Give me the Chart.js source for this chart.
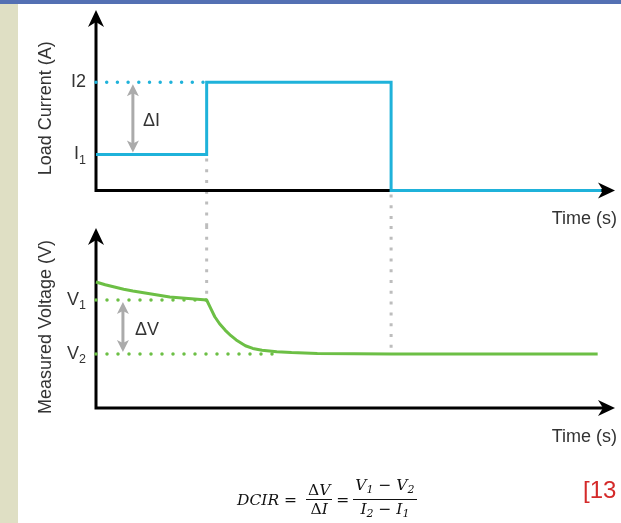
<!DOCTYPE html>
<html>
<head>
<meta charset="utf-8">
<script src="https://cdn.jsdelivr.net/npm/chart.js@4.4.0/dist/chart.umd.min.js"></script>
<style>
  body { margin: 0; width: 621px; height: 523px; position: relative; overflow: hidden; background: #fff; }
  .strip { position: absolute; left: 0; top: 0; width: 18px; height: 523px; background: #DFDFC4; }
  .bar { position: absolute; left: 0; top: 0; width: 621px; height: 4px; background: #5470B3; }
  canvas { position: absolute; left: 0; top: 0; }
  .formula { position: absolute; left: 237px; top: 476px; display: flex; align-items: center;
    font: italic 15.5px 'DejaVu Serif', serif; color: #111; white-space: nowrap; }
  .formula .up { font-style: normal; }
  .frac { display: inline-flex; flex-direction: column; align-items: center; margin: 0 4px; line-height: 18px; }
  .frac span.num { border-bottom: 1px solid #111; padding: 0 2px; }
  .formula sub { font-size: 11px; vertical-align: -3px; }
  .ref { position: absolute; left: 583px; top: 476px; font: 24px 'Liberation Sans', Arial, sans-serif; color: #D42A2A; }
</style>
</head>
<body>
<div class="strip"></div>
<div class="bar"></div>
<canvas id="chart-current" width="621" height="523"></canvas>
<canvas id="chart-voltage" width="621" height="523"></canvas>
<div class="formula">
  <span>DCIR =&nbsp;</span>
  <span class="frac"><span class="num"><span class="up">Δ</span>V</span><span><span class="up">Δ</span>I</span></span>
  <span>=</span>
  <span class="frac"><span class="num">V<sub>1</sub> − V<sub>2</sub></span><span>I<sub>2</sub> − I<sub>1</sub></span></span>
</div>
<div class="ref">[13</div>
<script>
// load current (stepped) : value changes at each time
const stepTimes = [0, 3, 8, 13.7];
const stepCurrent = [1, 3, 0, 0];
const currentLevels = [1, 3];
const currentTickText = ['I', 'I2'];
const currentTickSub = ['1', ''];

// measured voltage
const voltageTimes = [0, 0.25, 0.5, 0.75, 1, 1.5, 2, 2.5, 3, 3.1, 3.22, 3.35, 3.5, 3.65, 3.8, 4.05, 4.25, 4.5, 4.9, 5.3, 6, 7, 8, 13.6];
const voltageValues = [7, 6.85, 6.72, 6.6, 6.5, 6.33, 6.17, 6.08, 6, 5.58, 5.07, 4.68, 4.33, 4.03, 3.78, 3.46, 3.31, 3.21, 3.13, 3.08, 3.03, 3.01, 3, 3];
const voltageLevels = [6, 3];
const voltageTickText = ['V', 'V'];
const voltageTickSub = ['1', '2'];

const switchTimes = [3, 8];
const timeMax = 14.07;
const splitY = 226;

const cyan = '#1FB2DA';
const green = '#6CBF45';
const grey = '#ABABAB';
const textColor = '#333';
const font = "'Liberation Sans', Arial, sans-serif";

function toPoints(xs, ys) {
  return xs.map((x, i) => ({x: x, y: ys[i]}));
}

function arrowHead(ctx, x, y, angle, len, half, notch) {
  ctx.save();
  ctx.translate(x, y);
  ctx.rotate(angle);
  ctx.beginPath();
  ctx.moveTo(0, 0);
  ctx.lineTo(-len, -half);
  ctx.lineTo(-len + notch, 0);
  ctx.lineTo(-len, half);
  ctx.closePath();
  ctx.fill();
  ctx.restore();
}

const diagram = {
  id: 'diagram',
  beforeDatasetsDraw(chart, args, o) {
    const {ctx, chartArea: a, scales} = chart;
    ctx.save();
    // dotted grey connectors at the switch times
    ctx.strokeStyle = '#BDBDBD';
    ctx.lineWidth = 3;
    ctx.setLineDash([3, 7.8]);
    switchTimes.forEach((t, i) => {
      const x = scales.x.getPixelForValue(t);
      const y = scales.y.getPixelForValue(o.connectorValues[i]);
      ctx.beginPath();
      if (o.connectDown) { ctx.moveTo(x, y + 4); ctx.lineTo(x, splitY); }
      else { ctx.moveTo(x, splitY); ctx.lineTo(x, y - 6); }
      ctx.stroke();
    });
    ctx.setLineDash([]);
    // axes with arrows
    ctx.strokeStyle = '#000';
    ctx.fillStyle = '#000';
    ctx.lineWidth = 3;
    ctx.beginPath();
    ctx.moveTo(a.left, a.top + 10);
    ctx.lineTo(a.left, a.bottom);
    ctx.lineTo(a.right - 10, a.bottom);
    ctx.stroke();
    arrowHead(ctx, a.left, a.top, -Math.PI / 2, 17, 8, 5);
    arrowHead(ctx, a.right, a.bottom, 0, 17, 8, 5);
    ctx.restore();
  },
  afterDatasetsDraw(chart, args, o) {
    const {ctx, chartArea: a, scales} = chart;
    ctx.save();
    // level labels
    ctx.fillStyle = textColor;
    ctx.textBaseline = 'middle';
    o.levels.forEach((v, i) => {
      const y = scales.y.getPixelForValue(v);
      ctx.font = '12.5px ' + font;
      const sw = o.subs[i] ? ctx.measureText(o.subs[i]).width : 0;
      const right = a.left - 10;
      ctx.textAlign = 'right';
      if (o.subs[i]) ctx.fillText(o.subs[i], right, y + 6);
      ctx.font = '18px ' + font;
      ctx.fillText(o.texts[i], right - sw, y);
    });
    // delta arrow
    const dx = scales.x.getPixelForValue(o.deltaAt);
    const y1 = scales.y.getPixelForValue(o.levels[0]);
    const y2 = scales.y.getPixelForValue(o.levels[1]);
    const yt = Math.min(y1, y2) + 2, yb = Math.max(y1, y2) - 2;
    ctx.strokeStyle = grey;
    ctx.fillStyle = grey;
    ctx.lineWidth = 3;
    ctx.beginPath();
    ctx.moveTo(dx, yt + 8);
    ctx.lineTo(dx, yb - 8);
    ctx.stroke();
    arrowHead(ctx, dx, yt, -Math.PI / 2, 12, 6, 3);
    arrowHead(ctx, dx, yb, Math.PI / 2, 12, 6, 3);
    ctx.fillStyle = textColor;
    ctx.font = '18px ' + font;
    ctx.textAlign = 'left';
    ctx.fillText(o.deltaLabel, dx + o.deltaGap, (yt + yb) / 2 + 3);
    // axis titles
    ctx.textAlign = 'right';
    ctx.fillText('Time (s)', a.right + 2, a.bottom + o.timeOffset);
    ctx.save();
    ctx.translate(46, (a.top + a.bottom) / 2 + o.titleShift);
    ctx.rotate(-Math.PI / 2);
    ctx.textAlign = 'center';
    ctx.fillText(o.title, 0, 0);
    ctx.restore();
    ctx.restore();
  }
};

function baseOptions(pad, yMax, diagramOpts) {
  return {
    responsive: false,
    animation: false,
    events: [],
    layout: {padding: pad},
    scales: {
      x: {type: 'linear', min: 0, max: timeMax, display: false},
      y: {type: 'linear', min: 0, max: yMax, display: false}
    },
    plugins: {legend: {display: false}, tooltip: {enabled: false}, diagram: diagramOpts}
  };
}

new Chart(document.getElementById('chart-current'), {
  type: 'line',
  data: {
    datasets: [{
      data: toPoints(stepTimes, stepCurrent),
      stepped: 'before',
      borderColor: cyan,
      borderWidth: 3,
      pointRadius: 0,
      clip: false
    }, {
      data: toPoints([0, switchTimes[0]], [currentLevels[1], currentLevels[1]]),
      borderColor: cyan,
      borderWidth: 3.5,
      borderDash: [0, 10.7],
      borderCapStyle: 'round',
      pointRadius: 0,
      clip: false
    }]
  },
  options: baseOptions({left: 96, right: 6, top: 10, bottom: 332.5}, 5, {
    connectDown: true,
    connectorValues: [currentLevels[0], 0],
    levels: currentLevels,
    texts: currentTickText,
    subs: currentTickSub,
    deltaAt: 1.0,
    deltaLabel: 'ΔI',
    deltaGap: 10,
    timeOffset: 28.5,
    title: 'Load Current (A)',
    titleShift: 8
  }),
  plugins: [diagram]
});

new Chart(document.getElementById('chart-voltage'), {
  type: 'line',
  data: {
    datasets: [{
      data: toPoints(voltageTimes, voltageValues),
      tension: 0,
      borderColor: green,
      borderWidth: 3,
      borderJoinStyle: 'round',
      pointRadius: 0,
      clip: false
    }, {
      data: toPoints([0, switchTimes[0]], [voltageLevels[0], voltageLevels[0]]),
      borderColor: green,
      borderWidth: 3.5,
      borderDash: [0, 11],
      borderCapStyle: 'round',
      pointRadius: 0,
      clip: false
    }, {
      data: toPoints([0, 5], [voltageLevels[1], voltageLevels[1]]),
      borderColor: green,
      borderWidth: 3.5,
      borderDash: [0, 11],
      borderCapStyle: 'round',
      pointRadius: 0,
      clip: false
    }]
  },
  options: baseOptions({left: 96, right: 6, top: 228, bottom: 115}, 10, {
    connectDown: false,
    connectorValues: [voltageLevels[0], voltageLevels[1]],
    levels: voltageLevels,
    texts: voltageTickText,
    subs: voltageTickSub,
    deltaAt: 0.73,
    deltaLabel: 'ΔV',
    deltaGap: 12,
    timeOffset: 29,
    title: 'Measured Voltage (V)',
    titleShift: 9
  }),
  plugins: [diagram]
});
</script>
</body>
</html>
